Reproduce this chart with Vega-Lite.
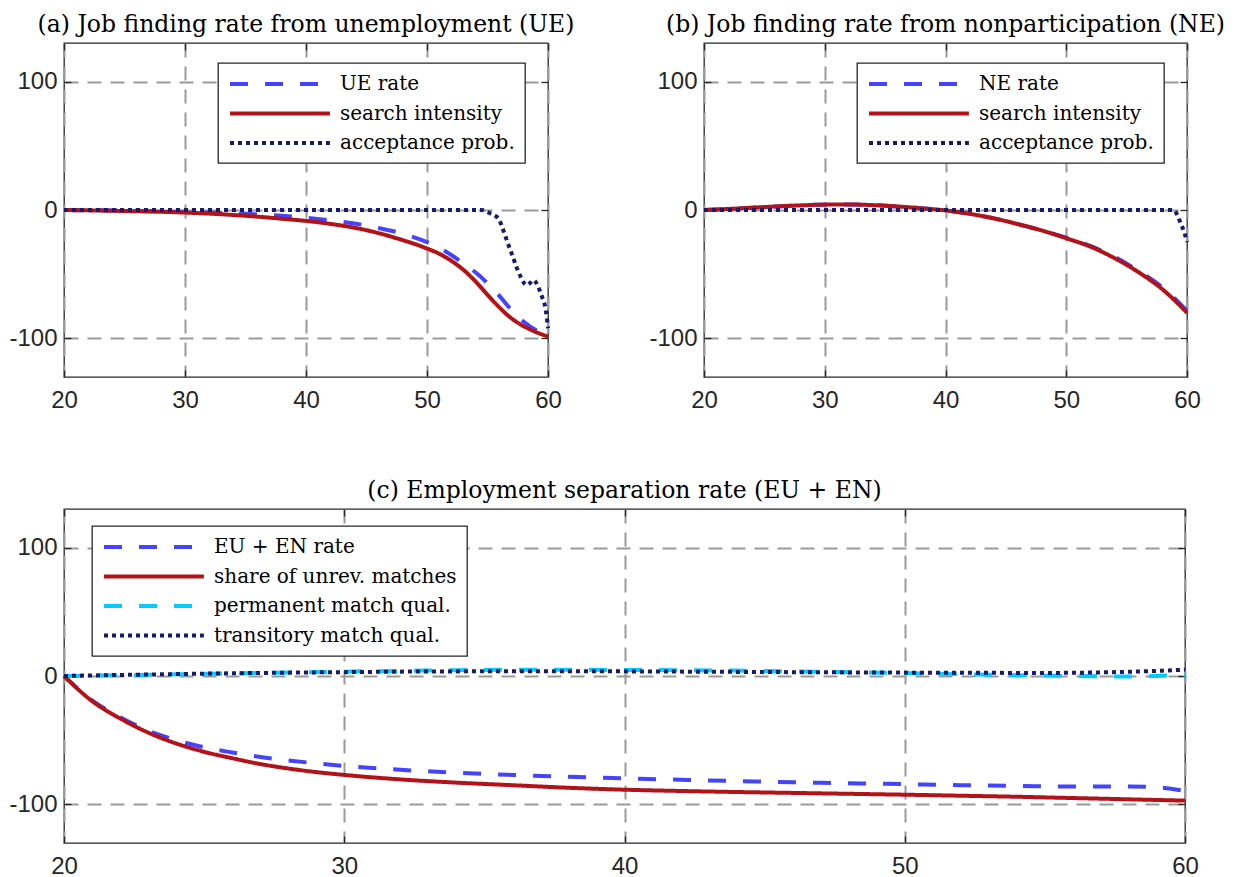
{
  "$schema": "https://vega.github.io/schema/vega-lite/v6.json",
  "background": "white",
  "padding": {"left": 8, "top": 12, "right": 0, "bottom": 0},
  "config": {
    "view": {"stroke": "#262626", "strokeWidth": 1.3},
    "axis": {
      "domain": false,
      "grid": true,
      "gridDash": [14, 9],
      "gridColor": "#9a9a9a",
      "gridWidth": 2,
      "gridOpacity": 1,
      "tickSize": -7,
      "tickColor": "#262626",
      "tickWidth": 1.3,
      "labelFont": "Liberation Sans",
      "labelFontSize": 24,
      "labelColor": "#262626",
      "labelFlush": false,
      "labelExpr": "'' + datum.value",
      "title": null
    },
    "axisX": {"labelPadding": 18},
    "axisY": {"labelPadding": 14},
    "title": {"font": "DejaVu Serif", "fontSize": 23.5, "fontWeight": "normal", "color": "#000000", "offset": 6, "baseline": "alphabetic", "frame": "group"},
    "legend": {
      "orient": "none",
      "strokeColor": "#262626",
      "strokeWidth": 1.3,
      "fillColor": "white",
      "padding": 10,
      "symbolType": "M-1,0H10.1",
      "symbolSize": 324,
      "symbolStrokeWidth": 4,
      "labelFont": "DejaVu Serif",
      "labelFontSize": 20,
      "labelColor": "#000000",
      "labelOffset": 90,
      "labelLimit": 500,
      "rowPadding": 8.5,
      "title": null
    },
    "line": {"strokeWidth": 4, "interpolate": "monotone"}
  },
  "datasets": {
    "none": [],
    "a": [
      {"s": "UE rate", "x": 20, "y": 0}, {"s": "UE rate", "x": 25, "y": -0.5}, {"s": "UE rate", "x": 30, "y": -1.5}, {"s": "UE rate", "x": 35, "y": -3}, {"s": "UE rate", "x": 38, "y": -4.5}, {"s": "UE rate", "x": 40, "y": -6}, {"s": "UE rate", "x": 42, "y": -8}, {"s": "UE rate", "x": 44, "y": -10.5}, {"s": "UE rate", "x": 46, "y": -14}, {"s": "UE rate", "x": 48, "y": -18.5}, {"s": "UE rate", "x": 50, "y": -25}, {"s": "UE rate", "x": 51, "y": -29.5}, {"s": "UE rate", "x": 52, "y": -35}, {"s": "UE rate", "x": 53, "y": -41.5}, {"s": "UE rate", "x": 54, "y": -48.5}, {"s": "UE rate", "x": 55, "y": -57}, {"s": "UE rate", "x": 56, "y": -67}, {"s": "UE rate", "x": 57, "y": -78}, {"s": "UE rate", "x": 58, "y": -87}, {"s": "UE rate", "x": 59, "y": -93.5}, {"s": "UE rate", "x": 60, "y": -97},
      {"s": "search intensity", "x": 20, "y": 0}, {"s": "search intensity", "x": 25, "y": -0.8}, {"s": "search intensity", "x": 30, "y": -2}, {"s": "search intensity", "x": 35, "y": -4.5}, {"s": "search intensity", "x": 38, "y": -6.8}, {"s": "search intensity", "x": 40, "y": -8.5}, {"s": "search intensity", "x": 42, "y": -10.8}, {"s": "search intensity", "x": 44, "y": -13.8}, {"s": "search intensity", "x": 46, "y": -18}, {"s": "search intensity", "x": 48, "y": -23.5}, {"s": "search intensity", "x": 49, "y": -26.5}, {"s": "search intensity", "x": 50, "y": -30}, {"s": "search intensity", "x": 51, "y": -34}, {"s": "search intensity", "x": 52, "y": -39.5}, {"s": "search intensity", "x": 53, "y": -46.5}, {"s": "search intensity", "x": 54, "y": -55.5}, {"s": "search intensity", "x": 55, "y": -66}, {"s": "search intensity", "x": 56, "y": -76}, {"s": "search intensity", "x": 57, "y": -84.5}, {"s": "search intensity", "x": 58, "y": -90.5}, {"s": "search intensity", "x": 59, "y": -95}, {"s": "search intensity", "x": 60, "y": -98.5},
      {"s": "acceptance prob.", "x": 20, "y": 0}, {"s": "acceptance prob.", "x": 30, "y": 0}, {"s": "acceptance prob.", "x": 40, "y": 0}, {"s": "acceptance prob.", "x": 50, "y": 0}, {"s": "acceptance prob.", "x": 54.5, "y": 0}, {"s": "acceptance prob.", "x": 55.2, "y": -2.5}, {"s": "acceptance prob.", "x": 55.9, "y": -6.5}, {"s": "acceptance prob.", "x": 56.2, "y": -13}, {"s": "acceptance prob.", "x": 56.5, "y": -21}, {"s": "acceptance prob.", "x": 56.8, "y": -29}, {"s": "acceptance prob.", "x": 57.1, "y": -36.5}, {"s": "acceptance prob.", "x": 57.4, "y": -44.5}, {"s": "acceptance prob.", "x": 57.8, "y": -53}, {"s": "acceptance prob.", "x": 58.2, "y": -58.5}, {"s": "acceptance prob.", "x": 58.5, "y": -57}, {"s": "acceptance prob.", "x": 58.8, "y": -54.5}, {"s": "acceptance prob.", "x": 59.2, "y": -60}, {"s": "acceptance prob.", "x": 59.5, "y": -67.5}, {"s": "acceptance prob.", "x": 59.8, "y": -77}, {"s": "acceptance prob.", "x": 60, "y": -92}
    ],
    "b": [
      {"s": "NE rate", "x": 20, "y": 0}, {"s": "NE rate", "x": 22, "y": 0.8}, {"s": "NE rate", "x": 24, "y": 1.8}, {"s": "NE rate", "x": 26, "y": 2.8}, {"s": "NE rate", "x": 28, "y": 3.6}, {"s": "NE rate", "x": 30, "y": 4.2}, {"s": "NE rate", "x": 32, "y": 4.3}, {"s": "NE rate", "x": 34, "y": 3.8}, {"s": "NE rate", "x": 36, "y": 2.8}, {"s": "NE rate", "x": 38, "y": 1.4}, {"s": "NE rate", "x": 40, "y": -0.3}, {"s": "NE rate", "x": 42, "y": -3}, {"s": "NE rate", "x": 44, "y": -6.5}, {"s": "NE rate", "x": 46, "y": -11}, {"s": "NE rate", "x": 48, "y": -16}, {"s": "NE rate", "x": 50, "y": -21.5}, {"s": "NE rate", "x": 52, "y": -28}, {"s": "NE rate", "x": 54, "y": -36.5}, {"s": "NE rate", "x": 56, "y": -47.5}, {"s": "NE rate", "x": 58, "y": -60.5}, {"s": "NE rate", "x": 59, "y": -69}, {"s": "NE rate", "x": 60, "y": -78.5},
      {"s": "search intensity", "x": 20, "y": 0}, {"s": "search intensity", "x": 22, "y": 0.8}, {"s": "search intensity", "x": 24, "y": 1.8}, {"s": "search intensity", "x": 26, "y": 2.8}, {"s": "search intensity", "x": 28, "y": 3.6}, {"s": "search intensity", "x": 30, "y": 4.2}, {"s": "search intensity", "x": 32, "y": 4.3}, {"s": "search intensity", "x": 34, "y": 3.8}, {"s": "search intensity", "x": 36, "y": 2.8}, {"s": "search intensity", "x": 38, "y": 1.3}, {"s": "search intensity", "x": 40, "y": -0.3}, {"s": "search intensity", "x": 42, "y": -3}, {"s": "search intensity", "x": 44, "y": -6.5}, {"s": "search intensity", "x": 46, "y": -11}, {"s": "search intensity", "x": 48, "y": -16}, {"s": "search intensity", "x": 50, "y": -22}, {"s": "search intensity", "x": 52, "y": -28.5}, {"s": "search intensity", "x": 54, "y": -37.5}, {"s": "search intensity", "x": 56, "y": -48.5}, {"s": "search intensity", "x": 58, "y": -62}, {"s": "search intensity", "x": 59, "y": -70.5}, {"s": "search intensity", "x": 60, "y": -80},
      {"s": "acceptance prob.", "x": 20, "y": 0}, {"s": "acceptance prob.", "x": 30, "y": 0}, {"s": "acceptance prob.", "x": 40, "y": 0}, {"s": "acceptance prob.", "x": 50, "y": 0}, {"s": "acceptance prob.", "x": 58.9, "y": 0}, {"s": "acceptance prob.", "x": 59.2, "y": -4}, {"s": "acceptance prob.", "x": 59.5, "y": -11}, {"s": "acceptance prob.", "x": 59.8, "y": -18}, {"s": "acceptance prob.", "x": 60, "y": -25}
    ],
    "c": [
      {"s": "EU + EN rate", "x": 20, "y": 0}, {"s": "EU + EN rate", "x": 21, "y": -19}, {"s": "EU + EN rate", "x": 22, "y": -32}, {"s": "EU + EN rate", "x": 23, "y": -42.5}, {"s": "EU + EN rate", "x": 24, "y": -50}, {"s": "EU + EN rate", "x": 25, "y": -55.5}, {"s": "EU + EN rate", "x": 26, "y": -59.5}, {"s": "EU + EN rate", "x": 27, "y": -63}, {"s": "EU + EN rate", "x": 28, "y": -65.7}, {"s": "EU + EN rate", "x": 29, "y": -68}, {"s": "EU + EN rate", "x": 30, "y": -70}, {"s": "EU + EN rate", "x": 32, "y": -73}, {"s": "EU + EN rate", "x": 34, "y": -75.3}, {"s": "EU + EN rate", "x": 36, "y": -77}, {"s": "EU + EN rate", "x": 38, "y": -78.5}, {"s": "EU + EN rate", "x": 40, "y": -79.7}, {"s": "EU + EN rate", "x": 42, "y": -80.8}, {"s": "EU + EN rate", "x": 44, "y": -81.8}, {"s": "EU + EN rate", "x": 46, "y": -82.7}, {"s": "EU + EN rate", "x": 48, "y": -83.5}, {"s": "EU + EN rate", "x": 50, "y": -84.2}, {"s": "EU + EN rate", "x": 52, "y": -85}, {"s": "EU + EN rate", "x": 54, "y": -85.6}, {"s": "EU + EN rate", "x": 56, "y": -86}, {"s": "EU + EN rate", "x": 58, "y": -86}, {"s": "EU + EN rate", "x": 59, "y": -86.6}, {"s": "EU + EN rate", "x": 60, "y": -89.5},
      {"s": "share of unrev. matches", "x": 20, "y": 0}, {"s": "share of unrev. matches", "x": 21, "y": -19.5}, {"s": "share of unrev. matches", "x": 22, "y": -33}, {"s": "share of unrev. matches", "x": 23, "y": -44}, {"s": "share of unrev. matches", "x": 24, "y": -52.5}, {"s": "share of unrev. matches", "x": 25, "y": -59}, {"s": "share of unrev. matches", "x": 26, "y": -64}, {"s": "share of unrev. matches", "x": 27, "y": -68.5}, {"s": "share of unrev. matches", "x": 28, "y": -72}, {"s": "share of unrev. matches", "x": 29, "y": -74.8}, {"s": "share of unrev. matches", "x": 30, "y": -77}, {"s": "share of unrev. matches", "x": 32, "y": -80.5}, {"s": "share of unrev. matches", "x": 34, "y": -83}, {"s": "share of unrev. matches", "x": 36, "y": -85}, {"s": "share of unrev. matches", "x": 38, "y": -87}, {"s": "share of unrev. matches", "x": 40, "y": -88.5}, {"s": "share of unrev. matches", "x": 42, "y": -89.5}, {"s": "share of unrev. matches", "x": 44, "y": -90.3}, {"s": "share of unrev. matches", "x": 46, "y": -91}, {"s": "share of unrev. matches", "x": 48, "y": -91.7}, {"s": "share of unrev. matches", "x": 50, "y": -92.4}, {"s": "share of unrev. matches", "x": 52, "y": -93.2}, {"s": "share of unrev. matches", "x": 54, "y": -94}, {"s": "share of unrev. matches", "x": 56, "y": -95}, {"s": "share of unrev. matches", "x": 58, "y": -96}, {"s": "share of unrev. matches", "x": 60, "y": -97},
      {"s": "permanent match qual.", "x": 20, "y": 0}, {"s": "permanent match qual.", "x": 22, "y": 0.6}, {"s": "permanent match qual.", "x": 24, "y": 1.3}, {"s": "permanent match qual.", "x": 26, "y": 2}, {"s": "permanent match qual.", "x": 28, "y": 2.7}, {"s": "permanent match qual.", "x": 30, "y": 3.4}, {"s": "permanent match qual.", "x": 32, "y": 4}, {"s": "permanent match qual.", "x": 34, "y": 4.5}, {"s": "permanent match qual.", "x": 36, "y": 4.8}, {"s": "permanent match qual.", "x": 38, "y": 4.8}, {"s": "permanent match qual.", "x": 40, "y": 4.7}, {"s": "permanent match qual.", "x": 42, "y": 4.5}, {"s": "permanent match qual.", "x": 44, "y": 4.2}, {"s": "permanent match qual.", "x": 46, "y": 3.6}, {"s": "permanent match qual.", "x": 48, "y": 3}, {"s": "permanent match qual.", "x": 50, "y": 2.3}, {"s": "permanent match qual.", "x": 52, "y": 1.4}, {"s": "permanent match qual.", "x": 54, "y": 0.6}, {"s": "permanent match qual.", "x": 56, "y": 0}, {"s": "permanent match qual.", "x": 58, "y": -0.4}, {"s": "permanent match qual.", "x": 59, "y": 0}, {"s": "permanent match qual.", "x": 60, "y": 1},
      {"s": "transitory match qual.", "x": 20, "y": 0}, {"s": "transitory match qual.", "x": 22, "y": 0.8}, {"s": "transitory match qual.", "x": 24, "y": 1.5}, {"s": "transitory match qual.", "x": 26, "y": 2.1}, {"s": "transitory match qual.", "x": 28, "y": 2.6}, {"s": "transitory match qual.", "x": 30, "y": 3}, {"s": "transitory match qual.", "x": 32, "y": 3.4}, {"s": "transitory match qual.", "x": 34, "y": 3.6}, {"s": "transitory match qual.", "x": 36, "y": 3.7}, {"s": "transitory match qual.", "x": 38, "y": 3.7}, {"s": "transitory match qual.", "x": 40, "y": 3.6}, {"s": "transitory match qual.", "x": 44, "y": 3.2}, {"s": "transitory match qual.", "x": 48, "y": 2.8}, {"s": "transitory match qual.", "x": 52, "y": 2.5}, {"s": "transitory match qual.", "x": 55, "y": 2.4}, {"s": "transitory match qual.", "x": 57, "y": 2.8}, {"s": "transitory match qual.", "x": 58, "y": 3.3}, {"s": "transitory match qual.", "x": 59, "y": 4}, {"s": "transitory match qual.", "x": 60, "y": 4.9}
    ]
  },
  "vconcat": [
    {
      "hconcat": [
        {
          "title": "(a) Job finding rate from unemployment (UE)",
          "width": 484, "height": 334,
          "layer": [
            {
              "data": {"name": "a"},
              "mark": {"type": "line"},
              "encoding": {
                "x": {"field": "x", "type": "quantitative", "scale": {"domain": [20, 60], "nice": false, "zero": false}, "axis": {"values": [20, 30, 40, 50, 60]}},
                "y": {"field": "y", "type": "quantitative", "scale": {"domain": [-130, 130], "nice": false}, "axis": {"values": [-100, 0, 100]}},
                "color": {"field": "s", "type": "nominal", "scale": {"domain": ["UE rate", "search intensity", "acceptance prob."], "range": ["#4444ff", "#b31218", "#1a1a6b"]}, "legend": {"legendX": 154, "legendY": 20}},
                "strokeDash": {"field": "s", "type": "nominal", "scale": {"domain": ["UE rate", "search intensity", "acceptance prob."], "range": [[18, 17], [1, 0], [4, 4]]}, "legend": {"legendX": 154, "legendY": 20}}
              }
            },
            {
              "data": {"name": "none"},
              "mark": {"type": "point"},
              "encoding": {
                "x": {"field": "x", "type": "quantitative", "axis": {"orient": "top", "values": [20, 30, 40, 50, 60], "labels": false, "grid": false, "minExtent": 0, "maxExtent": 0}},
                "y": {"field": "y", "type": "quantitative", "axis": {"orient": "right", "values": [-100, 0, 100], "labels": false, "grid": false, "minExtent": 0, "maxExtent": 0}}
              }
            }
          ],
          "resolve": {"axis": {"x": "independent", "y": "independent"}}
        },
        {
          "title": "(b) Job finding rate from nonparticipation (NE)",
          "width": 483, "height": 334,
          "layer": [
            {
              "data": {"name": "b"},
              "mark": {"type": "line"},
              "encoding": {
                "x": {"field": "x", "type": "quantitative", "scale": {"domain": [20, 60], "nice": false, "zero": false}, "axis": {"values": [20, 30, 40, 50, 60]}},
                "y": {"field": "y", "type": "quantitative", "scale": {"domain": [-130, 130], "nice": false}, "axis": {"values": [-100, 0, 100]}},
                "color": {"field": "s", "type": "nominal", "scale": {"domain": ["NE rate", "search intensity", "acceptance prob."], "range": ["#4444ff", "#b31218", "#1a1a6b"]}, "legend": {"legendX": 153, "legendY": 20}},
                "strokeDash": {"field": "s", "type": "nominal", "scale": {"domain": ["NE rate", "search intensity", "acceptance prob."], "range": [[18, 17], [1, 0], [4, 4]]}, "legend": {"legendX": 153, "legendY": 20}}
              }
            },
            {
              "data": {"name": "none"},
              "mark": {"type": "point"},
              "encoding": {
                "x": {"field": "x", "type": "quantitative", "axis": {"orient": "top", "values": [20, 30, 40, 50, 60], "labels": false, "grid": false, "minExtent": 0, "maxExtent": 0}},
                "y": {"field": "y", "type": "quantitative", "axis": {"orient": "right", "values": [-100, 0, 100], "labels": false, "grid": false, "minExtent": 0, "maxExtent": 0}}
              }
            }
          ],
          "resolve": {"axis": {"x": "independent", "y": "independent"}}
        }
      ],
      "spacing": 156,
      "bounds": "flush",
      "resolve": {"scale": {"color": "independent", "strokeDash": "independent", "x": "independent", "y": "independent"}, "legend": {"color": "independent", "strokeDash": "independent"}}
    },
    {
      "title": "(c) Employment separation rate (EU + EN)",
      "width": 1121, "height": 334,
      "layer": [
        {
          "data": {"name": "c"},
          "mark": {"type": "line"},
          "encoding": {
            "x": {"field": "x", "type": "quantitative", "scale": {"domain": [20, 60], "nice": false, "zero": false}, "axis": {"values": [20, 30, 40, 50, 60]}},
            "y": {"field": "y", "type": "quantitative", "scale": {"domain": [-130, 130], "nice": false}, "axis": {"values": [-100, 0, 100]}},
            "color": {"field": "s", "type": "nominal", "scale": {"domain": ["EU + EN rate", "share of unrev. matches", "permanent match qual.", "transitory match qual."], "range": ["#4444ff", "#b31218", "#00ccff", "#1a1a6b"]}, "legend": {"legendX": 28, "legendY": 17}},
            "strokeDash": {"field": "s", "type": "nominal", "scale": {"domain": ["EU + EN rate", "share of unrev. matches", "permanent match qual.", "transitory match qual."], "range": [[18, 17], [1, 0], [18, 17], [4, 4]]}, "legend": {"legendX": 28, "legendY": 17}}
          }
        },
        {
          "data": {"name": "none"},
          "mark": {"type": "point"},
          "encoding": {
            "x": {"field": "x", "type": "quantitative", "axis": {"orient": "top", "values": [20, 30, 40, 50, 60], "labels": false, "grid": false, "minExtent": 0, "maxExtent": 0}},
            "y": {"field": "y", "type": "quantitative", "axis": {"orient": "right", "values": [-100, 0, 100], "labels": false, "grid": false, "minExtent": 0, "maxExtent": 0}}
          }
        }
      ],
      "resolve": {"axis": {"x": "independent", "y": "independent"}}
    }
  ],
  "spacing": 65,
  "resolve": {"scale": {"color": "independent", "strokeDash": "independent", "x": "independent", "y": "independent"}, "legend": {"color": "independent", "strokeDash": "independent"}}
}
